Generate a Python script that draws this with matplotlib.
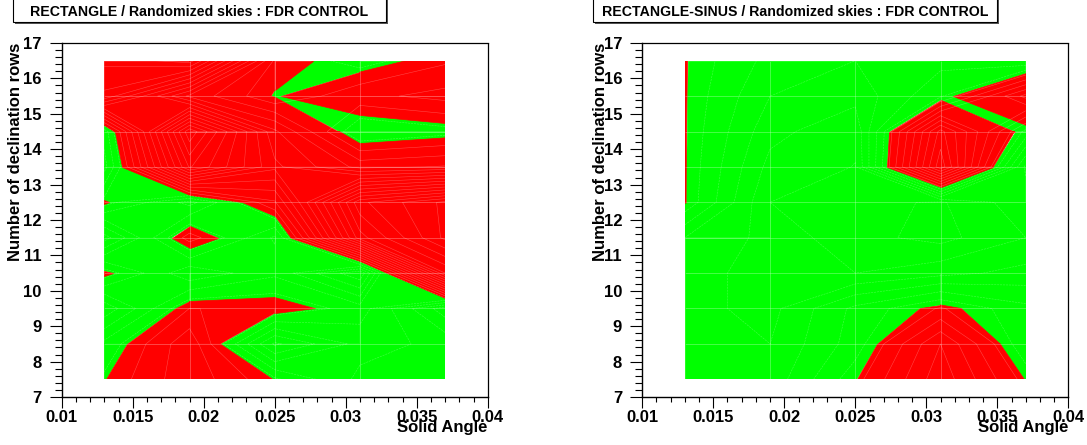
import numpy as np
import matplotlib
matplotlib.use('Agg')
import matplotlib.pyplot as plt
from matplotlib.collections import PolyCollection
from matplotlib.patches import Rectangle
from matplotlib.ticker import MultipleLocator

plt.rcParams['font.family'] = ['Liberation Sans', 'DejaVu Sans']
plt.rcParams['font.weight'] = 'bold'

# grid of the scan
solid_angle = [0.013, 0.019, 0.025, 0.031, 0.037]
dec_rows = [7.5, 8.5, 9.5, 10.5, 11.5, 12.5, 13.5, 14.5, 15.5, 16.5]

# FDR control value minus threshold (>0 red, <0 green); rows = dec_rows, cols = solid_angle
rect_vals = [
    [-0.05, 2.0, -0.05, -2.0, -2.0],
    [-0.74, 2.0, -3.56, -1.5, -2.0],
    [-3.2, 0.61, 0.53, -0.6, -3.86],
    [0.27, -2.45, -1.18, -4.07, 8.6],
    [-3.76, 1.0, -1.94, 8.27, 12.0],
    [0.134, -2.1, 1.29, 10.0, 12.0],
    [-2.1, 7.9, 4.0, 1.94, 2.28],
    [-1.49, 10.0, 3.17, -1.0, -0.5],
    [6.8, 2.0, -0.09, 1.17, 1.67],
    [8.0, 9.0, 0.45, -0.55, 0.47],
]
sinus_vals = [
    [-0.4, -0.5, -0.01, 0.6, -0.01],
    [-0.45, -0.55, -0.176, 0.5, -0.214],
    [-0.5, -0.6, -0.21, 0.067, -0.21],
    [-0.5, -0.6, -0.7, -0.6, -0.5],
    [-0.4, -0.6, -0.8, -0.9, -0.7],
    [0.01, -0.7, -0.8, -0.87, -0.6],
    [0.01, -0.6, -0.705, 1.2, -0.735],
    [0.01, -0.5, -0.667, 1.0, -0.149],
    [0.01, -0.4, -0.5, -0.124, 0.703],
    [0.01, -0.3, -0.4, -0.3, -0.395],
]

titles = ['RECTANGLE / Randomized skies : FDR CONTROL',
          'RECTANGLE-SINUS / Randomized skies : FDR CONTROL']


def cross(p, q, zp, zq):
    t = zp / (zp - zq)
    return (p[0] + t * (q[0] - p[0]), p[1] + t * (q[1] - p[1]))


def cell_polys(c, zs, red):
    # marching-square pieces of one cell, corners c in order bl, br, tr, tl
    inside = [(v > 0) == red for v in zs]
    saddle = all(inside[i] != inside[(i + 1) % 4] for i in range(4))
    if saddle and red:
        # green corners stay joined, red corners become separate triangles
        out = []
        for i in range(4):
            if inside[i]:
                a, b = (i - 1) % 4, (i + 1) % 4
                out.append([cross(c[a], c[i], zs[a], zs[i]), c[i],
                            cross(c[i], c[b], zs[i], zs[b])])
        return out
    pts = []
    for i in range(4):
        j = (i + 1) % 4
        if inside[i]:
            pts.append(c[i])
        if inside[i] != inside[j]:
            pts.append(cross(c[i], c[j], zs[i], zs[j]))
    return [pts] if len(pts) >= 3 else []


def contour_pieces(z, red):
    polys = []
    for j in range(len(dec_rows) - 1):
        for i in range(len(solid_angle) - 1):
            x0, x1 = solid_angle[i], solid_angle[i + 1]
            y0, y1 = dec_rows[j], dec_rows[j + 1]
            c = [(x0, y0), (x1, y0), (x1, y1), (x0, y1)]
            zs = [z[j, i], z[j, i + 1], z[j + 1, i + 1], z[j + 1, i]]
            polys += cell_polys(c, zs, red)
    return polys


fig = plt.figure(figsize=(10.87, 4.45), dpi=100)
axes_left = [61.7 / 1087, 642.3 / 1087]
box_x = [(13, 386), (593, 997)]
ylab_x = [-0.108, -0.099]
steps = [0.8, 0.15]

for k, vals in enumerate([rect_vals, sinus_vals]):
    z = np.array(vals)
    ax = fig.add_axes([axes_left[k], 48 / 445, 426 / 1087, 354 / 445])
    area = Rectangle((solid_angle[0], dec_rows[0]), solid_angle[-1] - solid_angle[0],
                     dec_rows[-1] - dec_rows[0], transform=ax.transData)
    for red, col in [(False, '#00ff00'), (True, '#ff0000')]:
        pc = PolyCollection(contour_pieces(z, red), facecolors=col, edgecolors=col,
                            linewidths=0.5)
        ax.add_collection(pc)
        pc.set_clip_path(area)
    fine = np.arange(np.floor(z.min()), z.max(), steps[k])
    fine = fine[np.abs(fine) > 0.05]
    ax.contour(solid_angle, dec_rows, z, levels=fine, colors='white',
               linewidths=0.4, alpha=0.28)
    ax.vlines(solid_angle[1:-1], dec_rows[0], dec_rows[-1], colors='white',
              linewidths=0.6, alpha=0.3)
    ax.hlines(dec_rows[1:-1], solid_angle[0], solid_angle[-1], colors='white',
              linewidths=0.6, alpha=0.3)

    ax.set_xlim(0.01, 0.04)
    ax.set_ylim(7, 17)
    ax.xaxis.set_major_locator(MultipleLocator(0.005))
    ax.xaxis.set_minor_locator(MultipleLocator(0.001))
    ax.yaxis.set_major_locator(MultipleLocator(1))
    ax.yaxis.set_minor_locator(MultipleLocator(0.2))
    ax.set_xticklabels([f'{v:g}' for v in ax.get_xticks()])
    ax.tick_params(axis='x', which='major', length=7.7, width=0.8, pad=1.5, labelsize=12)
    ax.tick_params(axis='x', which='minor', length=3.6, width=0.8)
    ax.tick_params(axis='y', which='major', length=8.6, width=0.8, pad=6, labelsize=12)
    ax.tick_params(axis='y', which='minor', length=5, width=0.8)
    for s in ['top', 'right']:
        ax.spines[s].set_linestyle((0, (1, 1)))
        ax.spines[s].set_linewidth(0.9)
    for s in ['left', 'bottom']:
        ax.spines[s].set_linewidth(1.0)

    ax.text(1.0, -0.085, 'Solid Angle', transform=ax.transAxes, ha='right',
            va='center', fontsize=12, fontweight='bold')
    ax.text(ylab_x[k], 1.0, 'Number of declination rows', transform=ax.transAxes,
            rotation=90, ha='center', va='top', fontsize=12, fontweight='bold')

    # title box with shadow
    x0, x1 = box_x[k]
    fig.patches.append(Rectangle((x0 / 1087 + 2 / 1087, (445 - 24) / 445),
                                 (x1 - x0) / 1087, 30 / 445, transform=fig.transFigure,
                                 facecolor='#555555', edgecolor='none'))
    fig.patches.append(Rectangle((x0 / 1087, (445 - 22) / 445),
                                 (x1 - x0) / 1087, 30 / 445, transform=fig.transFigure,
                                 facecolor='white', edgecolor='black', linewidth=0.8))
    fig.text((x0 + x1) / 2 / 1087, (445 - 12) / 445, titles[k], ha='center',
             va='center', fontsize=10.2, fontweight='bold')

fig.savefig('out.png', dpi=100)
